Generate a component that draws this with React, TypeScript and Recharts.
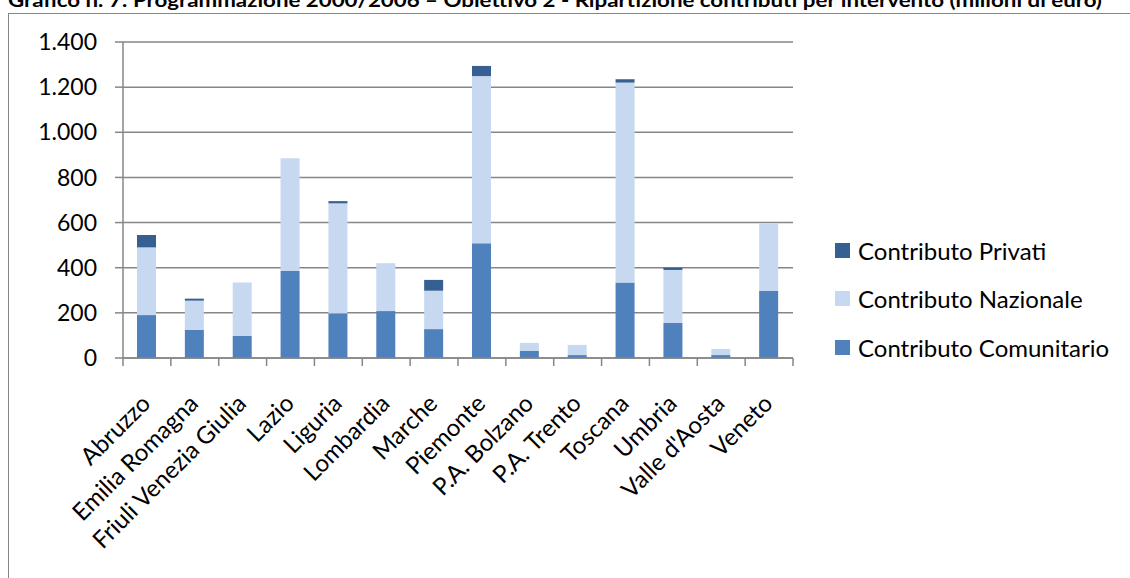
import React from 'react';
import { BarChart, Bar, XAxis, YAxis, CartesianGrid, Legend } from 'recharts';

const categories = [
  'Abruzzo', 'Emilia Romagna', 'Friuli Venezia Giulia', 'Lazio', 'Liguria', 'Lombardia', 'Marche',
  'Piemonte', 'P.A. Bolzano', 'P.A. Trento', 'Toscana', 'Umbria', "Valle d'Aosta", 'Veneto',
];
const comunitario = [190, 124, 98, 385, 198, 208, 128, 508, 31, 13, 334, 155, 13, 297];
const nazionale = [300, 130, 236, 500, 487, 212, 170, 741, 36, 45, 886, 235, 27, 300];
const privati = [55, 9, 0, 0, 10, 0, 48, 45, 0, 0, 15, 10, 0, 0];
const yTicks = [0, 200, 400, 600, 800, 1000, 1200, 1400];

const TITLE = 'Grafico n. 7: Programmazione 2000/2006 – Obiettivo 2 - Ripartizione contributi per intervento (milioni di euro)';

const data = categories.map((c, i) => ({
  name: c,
  comunitario: comunitario[i],
  nazionale: nazionale[i],
  privati: privati[i],
}));

const W = 1130;
const H = 578;
const M_LEFT = 123;
const M_RIGHT = 337;
const M_TOP = 42;
const X_AXIS_H = 220;
const BAND = (W - M_LEFT - M_RIGHT) / categories.length;
const FONT = 'Lato, "Noto Sans", sans-serif';
const GRAY = '#868686';

const C_COM = '#4F81BD';
const C_NAZ = '#C6D9F1';
const C_PRIV = '#376092';

const fmt = (v: number) => v.toString().replace(/\B(?=(\d{3})+(?!\d))/g, '.');

const XTick = (props: any) => {
  const { x, y, payload, index } = props;
  const half = BAND / 2;
  return (
    <g>
      <line x1={x - half} x2={x - half} y1={y} y2={y + 8} stroke={GRAY} strokeWidth={1.5} />
      {index === categories.length - 1 && (
        <line x1={x + half} x2={x + half} y1={y} y2={y + 8} stroke={GRAY} strokeWidth={1.5} />
      )}
      <text
        transform={`translate(${x + 5},${y + 47}) rotate(-45)`}
        textAnchor="end"
        fontSize={24}
        fontFamily={FONT}
        fill="#000"
      >
        {payload.value}
      </text>
    </g>
  );
};

const LegendContent = (props: any) => {
  const items = [...(props.payload || [])].reverse();
  return (
    <div style={{ fontFamily: FONT, fontSize: 24, color: '#000' }}>
      {items.map((it: any) => (
        <div key={it.value} style={{ display: 'flex', alignItems: 'center', height: 48.5, whiteSpace: 'nowrap' }}>
          <span style={{ display: 'inline-block', width: 15, height: 15, background: it.color, marginRight: 8 }} />
          <span>{it.value}</span>
        </div>
      ))}
    </div>
  );
};

export default function App() {
  return (
    <div style={{ position: 'fixed', left: 0, top: 0, width: W, height: H, overflow: 'hidden', background: '#fff' }}>
      <div
        style={{
          position: 'absolute', left: 8, top: 13, width: 1300, height: 800,
          border: `1.5px solid ${GRAY}`, boxSizing: 'border-box',
        }}
      />
      <svg style={{ position: 'absolute', left: 0, top: 0 }} width={W} height={20}>
        <text
          x={8}
          y={7}
          fontFamily={FONT}
          fontWeight="bold"
          fontSize={19}
          textLength={1094}
          lengthAdjust="spacingAndGlyphs"
          fill="#000"
        >
          {TITLE}
        </text>
      </svg>
      <div style={{ position: 'absolute', left: 0, top: 0 }}>
        <BarChart
          width={W}
          height={H}
          data={data}
          margin={{ top: M_TOP, right: M_RIGHT, bottom: 0, left: 0 }}
          barSize={19}
        >
          <CartesianGrid vertical={false} stroke={GRAY} strokeWidth={1.5} />
          <XAxis
            dataKey="name"
            interval={0}
            height={X_AXIS_H}
            tickLine={false}
            tickSize={0}
            tickMargin={0}
            axisLine={{ stroke: GRAY, strokeWidth: 1.5 }}
            tick={<XTick />}
          />
          <YAxis
            width={M_LEFT}
            domain={[0, 1400]}
            ticks={yTicks}
            tickFormatter={fmt}
            tickSize={8}
            tickMargin={18}
            tickLine={{ stroke: GRAY, strokeWidth: 1.5 }}
            axisLine={{ stroke: GRAY, strokeWidth: 1.5 }}
            tick={{ fill: '#000', fontSize: 23, fontFamily: FONT }}
            allowDataOverflow
          />
          <Legend
            layout="horizontal"
            verticalAlign="middle"
            align="center"
            content={<LegendContent />}
            wrapperStyle={{ position: 'absolute', left: 835, top: 226, width: 295 }}
          />
          <Bar dataKey="comunitario" name="Contributo Comunitario" stackId="a" fill={C_COM} isAnimationActive={false} />
          <Bar dataKey="nazionale" name="Contributo Nazionale" stackId="a" fill={C_NAZ} isAnimationActive={false} />
          <Bar dataKey="privati" name="Contributo Privati" stackId="a" fill={C_PRIV} isAnimationActive={false} />
        </BarChart>
      </div>
    </div>
  );
}
